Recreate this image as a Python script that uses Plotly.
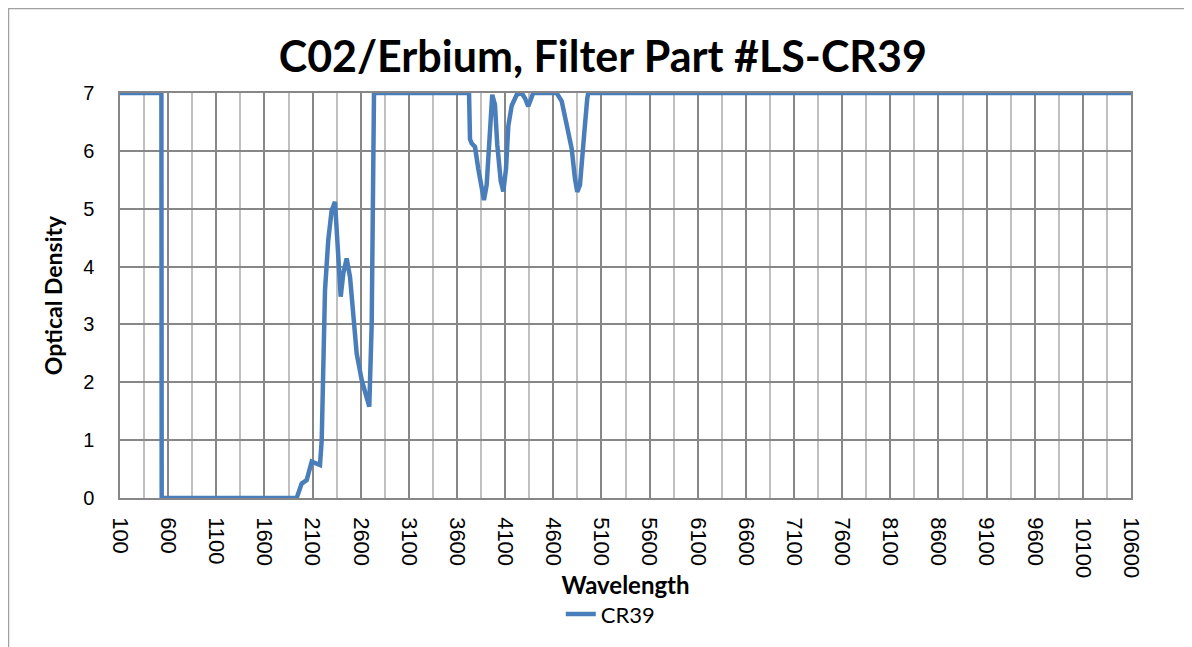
import plotly.graph_objects as go

# Data
wavelength = [100, 530, 533, 1935, 1987, 2039, 2091, 2177, 2195, 2211, 2229, 2263, 2298, 2333,
              2367, 2392, 2419, 2454, 2489, 2523, 2558, 2610, 2662, 2689, 2714, 2731, 2738,
              3725, 3735, 3752, 3787, 3821, 3856, 3880, 3908, 3935, 3966, 3994, 4018, 4054,
              4081, 4109, 4133, 4168, 4220, 4272, 4306, 4340, 4368, 4392,
              4635, 4687, 4739, 4791, 4825, 4849, 4877, 4905, 4929, 4953, 4963, 10600]
od = [7, 7, 0, 0, 0.25, 0.31, 0.63, 0.57, 1.0, 2.44, 3.59, 4.46, 4.97, 5.12,
      4.17, 3.48, 3.88, 4.14, 3.82, 3.13, 2.5, 2.04, 1.69, 1.58, 3.0, 5.03, 7,
      7, 6.2, 6.13, 6.07, 5.69, 5.29, 5.15, 5.41, 6.27, 6.97, 6.8, 6.11, 5.48,
      5.3, 5.69, 6.43, 6.78, 6.97, 7, 6.91, 6.77, 6.88, 7,
      7, 6.86, 6.45, 6.04, 5.52, 5.29, 5.41, 5.87, 6.45, 6.91, 7, 7]

x_ticks = list(range(100, 10601, 500))
y_ticks = list(range(0, 8))

fig = go.Figure()
fig.add_trace(go.Scatter(
    x=wavelength, y=od, mode="lines", name="CR39",
    line=dict(color="#4a7ebb", width=4.5, shape="linear"),
))

font_family = "Lato, Open Sans, sans-serif"

fig.update_layout(
    width=1192, height=647,
    paper_bgcolor="white", plot_bgcolor="white",
    margin=dict(l=112, r=69, t=85, b=157),
    title=dict(text="<b>C02/Erbium, Filter Part #LS-CR39</b>", x=0.499, xanchor="center",
               y=0.925, yanchor="middle", font=dict(family=font_family, size=43, color="black")),
    font=dict(family=font_family, color="black"),
    showlegend=True,
    legend=dict(orientation="h", x=0.436, xanchor="left", y=-0.235, yanchor="top",
                font=dict(size=22, family=font_family), bgcolor="rgba(0,0,0,0)"),
    xaxis=dict(
        range=[100, 10600], tickmode="array", tickvals=x_ticks, ticktext=[str(v) for v in x_ticks],
        tickangle=90, tickfont=dict(size=22, family="Liberation Sans, sans-serif"),
        showgrid=True, gridcolor="#878787", gridwidth=1.5,
        minor=dict(tick0=350, dtick=500, showgrid=True, gridcolor="#c0c0c0", gridwidth=1.5),
        showline=True, linecolor="#878787", linewidth=1.5, mirror=True,
        ticks="outside", ticklen=13, tickcolor="white", zeroline=False, automargin=False,
        title=dict(text="<b>Wavelength</b>", font=dict(size=24, family=font_family), standoff=0),
    ),
    yaxis=dict(
        range=[0, 7], tickmode="array", tickvals=y_ticks,
        tickfont=dict(size=20, family="Liberation Sans, sans-serif"),
        showgrid=True, gridcolor="#878787", gridwidth=1.5,
        showline=True, linecolor="#878787", linewidth=1.5, mirror=True,
        ticks="outside", ticklen=20, tickcolor="white", zeroline=False, automargin=False,
        title=dict(text="<b>Optical Density</b>", font=dict(size=23, family=font_family), standoff=14),
    ),
    shapes=[
        dict(type="rect", xref="paper", yref="paper", x0=-0.1103, x1=1.0534, y0=-0.6, y1=1.2086,
             line=dict(color="#a0a0a0", width=1.5)),
    ],
)

fig.write_html("out.html")
